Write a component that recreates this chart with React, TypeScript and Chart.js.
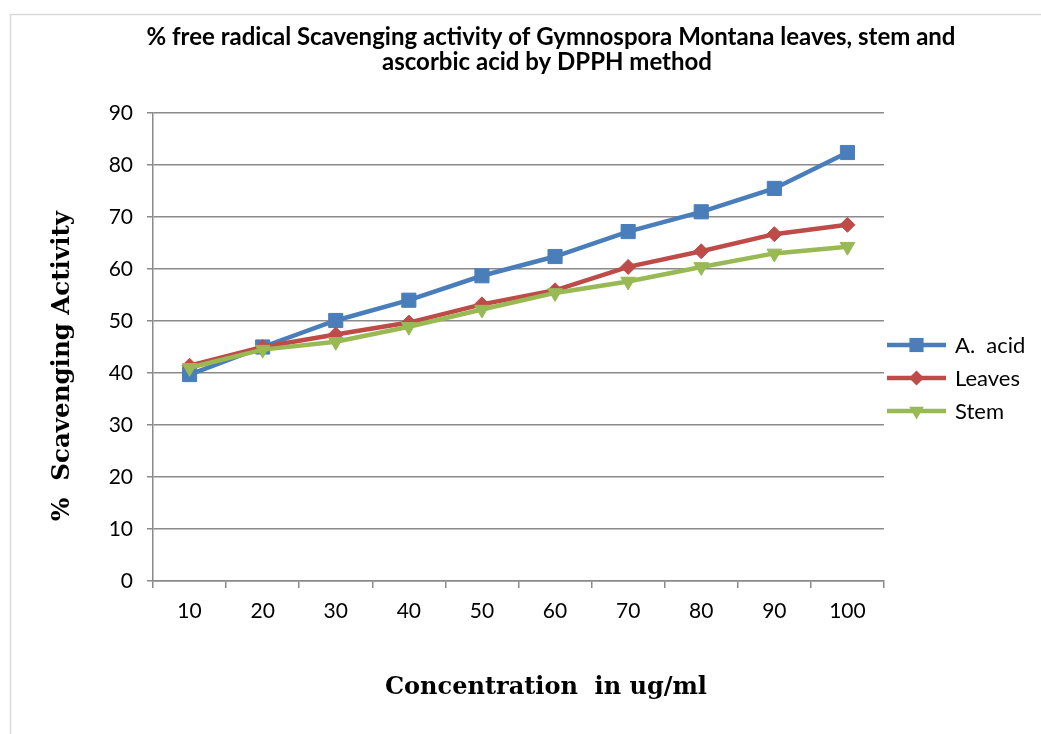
import React, { useEffect, useRef } from "react";
import { Chart, registerables } from "chart.js";

Chart.register(...registerables);

const categories = ["10", "20", "30", "40", "50", "60", "70", "80", "90", "100"];
const ascorbicAcid = [39.7, 45.0, 50.1, 54.0, 58.7, 62.4, 67.2, 71.0, 75.5, 82.4];
const leaves = [41.4, 45.0, 47.4, 49.7, 53.2, 55.9, 60.4, 63.4, 66.7, 68.5];
const stem = [41.0, 44.5, 46.0, 48.9, 52.2, 55.4, 57.6, 60.4, 63.0, 64.3];
const yTicks = [0, 10, 20, 30, 40, 50, 60, 70, 80, 90];

const titleLines = [
  "% free radical Scavenging activity of Gymnospora Montana leaves, stem and",
  "ascorbic acid by DPPH method",
];
const xTitle = "Concentration  in ug/ml";
const yTitle = "%  Scavenging Activity";

const BLUE = "#4A7EBB";
const RED = "#BE4B48";
const GREEN = "#98B954";
const GRID = "#8a8a8a";

function marker(ctx: CanvasRenderingContext2D, style: string, x: number, y: number, r: number) {
  ctx.beginPath();
  if (style === "rect") {
    const s = Math.SQRT1_2 * r;
    ctx.rect(x - s, y - s, 2 * s, 2 * s);
  } else if (style === "rectRot") {
    ctx.moveTo(x - r, y);
    ctx.lineTo(x, y - r);
    ctx.lineTo(x + r, y);
    ctx.lineTo(x, y + r);
    ctx.closePath();
  } else {
    ctx.moveTo(x, y + r);
    ctx.lineTo(x - r * Math.sin(Math.PI / 3), y - r / 2);
    ctx.lineTo(x + r * Math.sin(Math.PI / 3), y - r / 2);
    ctx.closePath();
  }
  ctx.fill();
}

const overlay = {
  id: "overlay",
  afterDraw(chart: any) {
    const ctx = chart.ctx as CanvasRenderingContext2D;
    ctx.save();
    ctx.strokeStyle = "#d9d9d9";
    ctx.lineWidth = 1.5;
    ctx.beginPath();
    ctx.moveTo(10.5, 734);
    ctx.lineTo(10.5, 14.5);
    ctx.lineTo(1041, 14.5);
    ctx.stroke();

    ctx.fillStyle = "#000";
    ctx.textAlign = "center";
    ctx.textBaseline = "middle";
    ctx.font = "bold 24px Lato";
    ctx.fillText(titleLines[0], 551, 37);
    ctx.fillText(titleLines[1], 547, 62);

    ctx.font = "bold 24px 'DejaVu Serif'";
    ctx.fillText(xTitle, 546, 688);
    ctx.save();
    ctx.translate(63, 366);
    ctx.rotate(-Math.PI / 2);
    ctx.font = "bold 24.5px 'DejaVu Serif'";
    ctx.fillText(yTitle, 0, 0);
    ctx.restore();

    const ys = [345, 378, 411];
    ctx.textAlign = "left";
    ctx.font = "22px Lato";
    chart.data.datasets.forEach((d: any, i: number) => {
      const y = ys[i];
      ctx.strokeStyle = d.borderColor;
      ctx.lineWidth = d.borderWidth;
      ctx.beginPath();
      ctx.moveTo(887, y);
      ctx.lineTo(946, y);
      ctx.stroke();
      ctx.fillStyle = d.pointBackgroundColor;
      marker(ctx, d.pointStyle, 916.5, y, d.pointRadius);
      ctx.fillStyle = "#000";
      ctx.fillText(d.label, 955, y + 1);
    });
    ctx.restore();
  },
};

export default function App() {
  const ref = useRef<HTMLCanvasElement>(null);
  useEffect(() => {
    document.body.style.margin = "0";
    const chart = new Chart(ref.current!, {
      type: "line",
      data: {
        labels: categories,
        datasets: [
          {
            label: "A.  acid",
            data: ascorbicAcid,
            borderColor: BLUE,
            backgroundColor: BLUE,
            pointBackgroundColor: BLUE,
            pointBorderColor: BLUE,
            borderWidth: 4.5,
            pointStyle: "rect",
            pointRadius: 10,
            pointBorderWidth: 1,
            order: 3,
          } as any,
          {
            label: "Leaves",
            data: leaves,
            borderColor: RED,
            backgroundColor: RED,
            pointBackgroundColor: RED,
            pointBorderColor: RED,
            borderWidth: 4.5,
            pointStyle: "rectRot",
            pointRadius: 7.5,
            pointBorderWidth: 1,
            order: 2,
          } as any,
          {
            label: "Stem",
            data: stem,
            borderColor: GREEN,
            backgroundColor: GREEN,
            pointBackgroundColor: GREEN,
            pointBorderColor: GREEN,
            borderWidth: 4.5,
            pointStyle: "triangle",
            pointRotation: 180,
            pointRadius: 8.5,
            pointBorderWidth: 1,
            order: 1,
          } as any,
        ],
      },
      options: {
        animation: false,
        responsive: false,
        layout: { padding: { top: 113, right: 157, left: 0, bottom: 0 } },
        plugins: {
          legend: { display: false },
          title: { display: false },
          tooltip: { enabled: false },
        },
        scales: {
          x: {
            offset: true,
            afterFit: (s: any) => {
              s.height = 153;
            },
            grid: {
              display: true,
              drawOnChartArea: false,
              drawTicks: true,
              tickLength: 7,
              offset: true,
              color: GRID,
              lineWidth: 1.5,
            },
            border: { display: true, color: GRID, width: 1.5 },
            ticks: {
              color: "#000",
              font: { family: "Lato", size: 21 },
              padding: 11,
              maxRotation: 0,
            },
          },
          y: {
            min: 0,
            max: 90,
            afterFit: (s: any) => {
              s.width = 153;
            },
            afterBuildTicks: (s: any) => {
              s.ticks = yTicks.map((v) => ({ value: v }));
            },
            grid: {
              color: GRID,
              lineWidth: 1.5,
              drawTicks: true,
              tickLength: 6,
            },
            border: { display: true, color: GRID, width: 1.5 },
            ticks: {
              color: "#000",
              font: { family: "Lato", size: 21 },
              padding: 14,
            },
          },
        },
      },
      plugins: [overlay],
    });
    return () => chart.destroy();
  }, []);
  return (
    <div style={{ width: 1041, height: 734, background: "#fff" }}>
      <canvas ref={ref} width={1041} height={734} style={{ display: "block" }} />
    </div>
  );
}
